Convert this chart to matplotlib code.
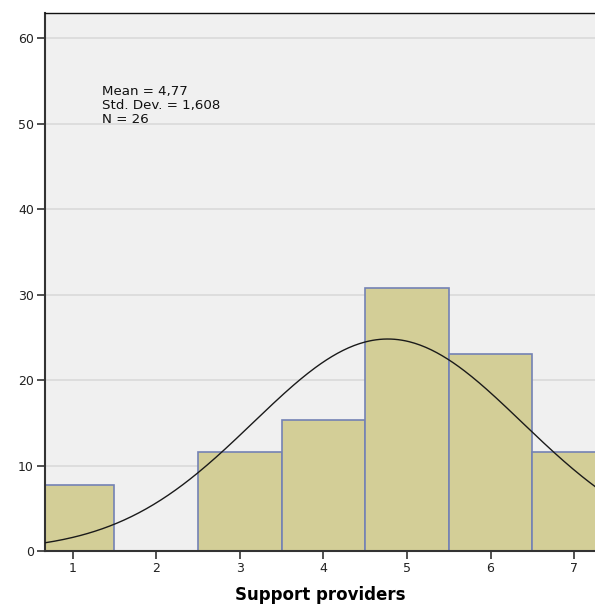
import matplotlib
matplotlib.use("Agg")
import matplotlib.pyplot as plt
import numpy as np

plt.rcParams["font.family"] = ["DejaVu Sans"]

# Frequencies of the number of support providers (N = 26)
values = [1, 2, 3, 4, 5, 6, 7]
counts = [2, 0, 3, 4, 8, 6, 3]
mean = 4.77
std_dev = 1.608
n_total = 26

y_ticks = [0, 10, 20, 30, 40, 50, 60]
x_ticks = [1, 2, 3, 4, 5, 6, 7]

percent = [c / n_total * 100 for c in counts]


def comma(x, digits):
    return f"{x:.{digits}f}".replace(".", ",")


fig = plt.figure(figsize=(5.95, 6.06), dpi=100)
ax = fig.add_axes([45 / 595, 55 / 606, 1 - 45 / 595, (551 - 12.7) / 606])
ax.set_facecolor("#f0f0f0")

ax.set_xlim(0.67, 7.25)
ax.set_ylim(0, 63)

ax.set_yticks(y_ticks)
ax.yaxis.grid(True, color="#dcdcdc", linewidth=1.3)
ax.set_axisbelow(True)

ax.bar(values, percent, width=1.0, color="#d3ce97", edgecolor="#7482b4", linewidth=1.2, zorder=2)

# fitted normal curve, scaled to percent per unit-width bin
xs = np.linspace(0.67, 7.25, 300)
pdf = np.exp(-0.5 * ((xs - mean) / std_dev) ** 2) / (std_dev * np.sqrt(2 * np.pi)) * 100
ax.plot(xs, pdf, color="#1a1a1a", linewidth=1.0, zorder=3)

stats = f"Mean = {comma(mean, 2)}\nStd. Dev. = {comma(std_dev, 3)}\nN = {n_total}"
ax.text(1.35, 54.5, stats, fontsize=9.6, va="top", ha="left", linespacing=1.08,
        color="#111111", zorder=4)

ax.set_xticks(x_ticks)
ax.tick_params(axis="both", direction="out", length=6, width=1.2, color="#333333",
               labelsize=9, labelcolor="#222222", pad=2)
ax.set_xlabel("Support providers", fontsize=12, fontweight="bold", labelpad=8)

for side in ("left", "bottom"):
    ax.spines[side].set_color("#333333")
    ax.spines[side].set_linewidth(1.5)
ax.spines["top"].set_color("#111111")
ax.spines["top"].set_linewidth(1.0)
ax.spines["right"].set_visible(False)

fig.savefig("out.png", dpi=100)
